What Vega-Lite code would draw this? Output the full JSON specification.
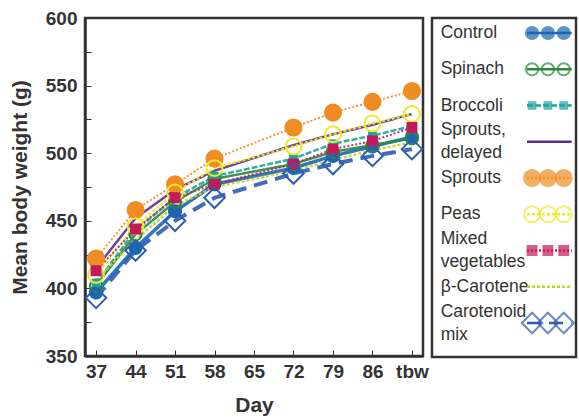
{
  "$schema": "https://vega.github.io/schema/vega-lite/v6.json",
  "padding": {"left": 8, "top": 7, "right": 0, "bottom": 2},
  "spacing": 0,
  "config": {
    "font": "Liberation Sans",
    "view": {"stroke": "#333", "strokeWidth": 2.5}
  },
  "datasets": {
    "weights": [
      {"Series": "Control", "Day": "37", "Weight": 397},
      {"Series": "Control", "Day": "44", "Weight": 430},
      {"Series": "Control", "Day": "51", "Weight": 457},
      {"Series": "Control", "Day": "58", "Weight": 477},
      {"Series": "Control", "Day": "72", "Weight": 489},
      {"Series": "Control", "Day": "79", "Weight": 498},
      {"Series": "Control", "Day": "86", "Weight": 505},
      {"Series": "Control", "Day": "tbw", "Weight": 512},
      {"Series": "Spinach", "Day": "37", "Weight": 402},
      {"Series": "Spinach", "Day": "44", "Weight": 440},
      {"Series": "Spinach", "Day": "51", "Weight": 464},
      {"Series": "Spinach", "Day": "58", "Weight": 481},
      {"Series": "Spinach", "Day": "72", "Weight": 492},
      {"Series": "Spinach", "Day": "79", "Weight": 501},
      {"Series": "Spinach", "Day": "86", "Weight": 506},
      {"Series": "Spinach", "Day": "tbw", "Weight": 511},
      {"Series": "Broccoli", "Day": "37", "Weight": 404},
      {"Series": "Broccoli", "Day": "44", "Weight": 443},
      {"Series": "Broccoli", "Day": "51", "Weight": 467},
      {"Series": "Broccoli", "Day": "58", "Weight": 483},
      {"Series": "Broccoli", "Day": "72", "Weight": 496},
      {"Series": "Broccoli", "Day": "79", "Weight": 507},
      {"Series": "Broccoli", "Day": "86", "Weight": 513},
      {"Series": "Broccoli", "Day": "tbw", "Weight": 520},
      {"Series": "Sprouts, delayed", "Day": "37", "Weight": 415},
      {"Series": "Sprouts, delayed", "Day": "44", "Weight": 452},
      {"Series": "Sprouts, delayed", "Day": "51", "Weight": 473},
      {"Series": "Sprouts, delayed", "Day": "58", "Weight": 487},
      {"Series": "Sprouts, delayed", "Day": "72", "Weight": 506},
      {"Series": "Sprouts, delayed", "Day": "79", "Weight": 514},
      {"Series": "Sprouts, delayed", "Day": "86", "Weight": 521},
      {"Series": "Sprouts, delayed", "Day": "tbw", "Weight": 529},
      {"Series": "Sprouts", "Day": "37", "Weight": 422},
      {"Series": "Sprouts", "Day": "44", "Weight": 458},
      {"Series": "Sprouts", "Day": "51", "Weight": 477},
      {"Series": "Sprouts", "Day": "58", "Weight": 496},
      {"Series": "Sprouts", "Day": "72", "Weight": 519},
      {"Series": "Sprouts", "Day": "79", "Weight": 530},
      {"Series": "Sprouts", "Day": "86", "Weight": 538},
      {"Series": "Sprouts", "Day": "tbw", "Weight": 546},
      {"Series": "Peas", "Day": "37", "Weight": 410},
      {"Series": "Peas", "Day": "44", "Weight": 446},
      {"Series": "Peas", "Day": "51", "Weight": 471},
      {"Series": "Peas", "Day": "58", "Weight": 489},
      {"Series": "Peas", "Day": "72", "Weight": 505},
      {"Series": "Peas", "Day": "79", "Weight": 514},
      {"Series": "Peas", "Day": "86", "Weight": 522},
      {"Series": "Peas", "Day": "tbw", "Weight": 529},
      {"Series": "Mixed vegetables", "Day": "37", "Weight": 413},
      {"Series": "Mixed vegetables", "Day": "44", "Weight": 444},
      {"Series": "Mixed vegetables", "Day": "51", "Weight": 467},
      {"Series": "Mixed vegetables", "Day": "58", "Weight": 477},
      {"Series": "Mixed vegetables", "Day": "72", "Weight": 492},
      {"Series": "Mixed vegetables", "Day": "79", "Weight": 503},
      {"Series": "Mixed vegetables", "Day": "86", "Weight": 509},
      {"Series": "Mixed vegetables", "Day": "tbw", "Weight": 519},
      {"Series": "β-Carotene", "Day": "37", "Weight": 406},
      {"Series": "β-Carotene", "Day": "44", "Weight": 436},
      {"Series": "β-Carotene", "Day": "51", "Weight": 461},
      {"Series": "β-Carotene", "Day": "58", "Weight": 475},
      {"Series": "β-Carotene", "Day": "72", "Weight": 487},
      {"Series": "β-Carotene", "Day": "79", "Weight": 495},
      {"Series": "β-Carotene", "Day": "86", "Weight": 502},
      {"Series": "β-Carotene", "Day": "tbw", "Weight": 508},
      {"Series": "Carotenoid mix", "Day": "37", "Weight": 393},
      {"Series": "Carotenoid mix", "Day": "44", "Weight": 428},
      {"Series": "Carotenoid mix", "Day": "51", "Weight": 450},
      {"Series": "Carotenoid mix", "Day": "58", "Weight": 467},
      {"Series": "Carotenoid mix", "Day": "72", "Weight": 485},
      {"Series": "Carotenoid mix", "Day": "79", "Weight": 492},
      {"Series": "Carotenoid mix", "Day": "86", "Weight": 498},
      {"Series": "Carotenoid mix", "Day": "tbw", "Weight": 503}
    ],
    "legend": [
      {"Series": "Control", "Label": "Control"},
      {"Series": "Spinach", "Label": "Spinach"},
      {"Series": "Broccoli", "Label": "Broccoli"},
      {"Series": "Sprouts, delayed", "Label": "Sprouts,\ndelayed"},
      {"Series": "Sprouts", "Label": "Sprouts"},
      {"Series": "Peas", "Label": "Peas"},
      {"Series": "Mixed vegetables", "Label": "Mixed\nvegetables"},
      {"Series": "β-Carotene", "Label": "β-Carotene"},
      {"Series": "Carotenoid mix", "Label": "Carotenoid\nmix"}
    ]
  },
  "hconcat": [
    {
      "width": 338,
      "height": 338,
      "data": {"name": "weights"},
      "encoding": {
        "x": {
          "field": "Day", "type": "ordinal",
          "scale": {"type": "point", "domain": ["37","44","51","58","65","72","79","86","tbw"], "padding": 0.28},
          "axis": {
            "title": "Day", "titleFontSize": 21, "titleFontWeight": "bold", "titleColor": "#333", "titlePadding": 13,
            "labelAngle": 0, "labelFontSize": 19, "labelFontWeight": "bold", "labelColor": "#333", "labelPadding": 12,
            "tickSize": -6, "tickColor": "#333", "domainColor": "#333", "domainWidth": 2.5, "grid": false
          }
        },
        "y": {
          "field": "Weight", "type": "quantitative",
          "scale": {"domain": [350, 600], "nice": false, "zero": false},
          "axis": {
            "title": "Mean body weight (g)", "titleFontSize": 21, "titleFontWeight": "bold", "titleColor": "#333", "titlePadding": 15,
            "values": [350, 375, 400, 425, 450, 475, 500, 525, 550, 575, 600],
            "labelExpr": "datum.value % 50 == 0 ? datum.label : ''",
            "labelFontSize": 19, "labelFontWeight": "bold", "labelColor": "#333", "labelPadding": 14,
            "tickSize": -6, "tickColor": "#333", "domainColor": "#333", "domainWidth": 2.5, "grid": false
          }
        }
      },
      "layer": [
        {
          "mark": {"type": "line", "opacity": 0.9},
          "encoding": {
            "color": {
              "field": "Series", "type": "nominal", "legend": null,
              "scale": {
                "domain": ["Control","Spinach","Broccoli","Sprouts, delayed","Sprouts","Peas","Mixed vegetables","β-Carotene","Carotenoid mix"],
                "range": ["#1a68b3","#2a8a3c","#1aa59a","#5c2d8f","#f08c22","#f0e82a","#c41a5a","#c2d22a","#2f5cb0"]
              }
            },
            "strokeDash": {
              "field": "Series", "type": "nominal", "legend": null,
              "scale": {
                "domain": ["Control","Spinach","Broccoli","Sprouts, delayed","Sprouts","Peas","Mixed vegetables","β-Carotene","Carotenoid mix"],
                "range": [[1,0],[1,0],[6,2],[1,0],[2,2],[3,2],[2,2],[3,2],[14,8]]
              }
            },
            "strokeWidth": {
              "field": "Series", "type": "nominal", "legend": null,
              "scale": {
                "type": "ordinal",
                "domain": ["Control","Spinach","Broccoli","Sprouts, delayed","Sprouts","Peas","Mixed vegetables","β-Carotene","Carotenoid mix"],
                "range": [3.5, 2.5, 2.5, 2.5, 2, 2.5, 2, 2.5, 4]
              }
            }
          }
        },
        {
          "transform": [{"filter": "datum.Series != 'Sprouts, delayed' && datum.Series != 'β-Carotene'"}],
          "mark": {"type": "point", "opacity": 1},
          "encoding": {
            "shape": {
              "field": "Series", "type": "nominal", "legend": null,
              "scale": {
                "domain": ["Control","Spinach","Broccoli","Sprouts","Peas","Mixed vegetables","Carotenoid mix"],
                "range": ["circle","circle","square","circle","circle","square","diamond"]
              }
            },
            "size": {
              "field": "Series", "type": "nominal", "legend": null,
              "scale": {
                "type": "ordinal",
                "domain": ["Control","Spinach","Broccoli","Sprouts","Peas","Mixed vegetables","Carotenoid mix"],
                "range": [150, 150, 45, 260, 250, 80, 420]
              }
            },
            "stroke": {
              "field": "Series", "type": "nominal", "legend": null,
              "scale": {
                "domain": ["Control","Spinach","Broccoli","Sprouts","Peas","Mixed vegetables","Carotenoid mix"],
                "range": ["#1a68b3","#2a8a3c","#1aa59a","#f08c22","#f0e82a","#c41a5a","#2f5cb0"]
              }
            },
            "fill": {
              "field": "Series", "type": "nominal", "legend": null,
              "scale": {
                "domain": ["Control","Spinach","Broccoli","Sprouts","Peas","Mixed vegetables","Carotenoid mix"],
                "range": ["#1a68b3","transparent","#1aa59a","#f08c22","transparent","#c41a5a","transparent"]
              }
            },
            "strokeWidth": {"value": 2}
          }
        }
      ]
    },
    {
      "width": 144,
      "height": 339,
      "data": {"name": "legend"},
      "encoding": {
        "y": {
          "field": "Series", "type": "nominal", "axis": null,
          "scale": {"type": "point", "domain": ["Control","Spinach","Broccoli","Sprouts, delayed","Sprouts","Peas","Mixed vegetables","β-Carotene","Carotenoid mix"], "range": [15, 305], "padding": 0}
        }
      },
      "layer": [
        {
          "transform": [{"filter": "indexof(datum.Label, '\\n') < 0"}],
          "mark": {"type": "text", "align": "left", "baseline": "middle", "fontSize": 17.5, "color": "#333"},
          "encoding": {
            "x": {"datum": 0.06, "type": "quantitative", "scale": {"domain": [0, 1]}, "axis": null},
            "text": {"field": "Label"}
          }
        },
        {
          "transform": [{"filter": "indexof(datum.Label, '\\n') >= 0"}],
          "mark": {"type": "text", "align": "left", "baseline": "middle", "fontSize": 17.5, "lineBreak": "\n", "lineHeight": 23, "dy": -11.5, "color": "#333"},
          "encoding": {
            "x": {"datum": 0.06, "type": "quantitative"},
            "text": {"field": "Label"}
          }
        },
        {
          "mark": {"type": "rule"},
          "encoding": {
            "x": {"datum": 0.66, "type": "quantitative"},
            "x2": {"datum": 0.97},
            "color": {
              "field": "Series", "type": "nominal", "legend": null,
              "scale": {
                "domain": ["Control","Spinach","Broccoli","Sprouts, delayed","Sprouts","Peas","Mixed vegetables","β-Carotene","Carotenoid mix"],
                "range": ["#1a68b3","#2a8a3c","#1aa59a","#5c2d8f","#f08c22","#f0e82a","#c41a5a","#c2d22a","#2f5cb0"]
              }
            },
            "strokeDash": {
              "field": "Series", "type": "nominal", "legend": null,
              "scale": {
                "domain": ["Control","Spinach","Broccoli","Sprouts, delayed","Sprouts","Peas","Mixed vegetables","β-Carotene","Carotenoid mix"],
                "range": [[1,0],[1,0],[6,2],[1,0],[2,2],[3,2],[2,2],[3,2],[14,8]]
              }
            },
            "strokeWidth": {"value": 2.5}
          }
        },
        {
          "transform": [{"filter": "datum.Series != 'Sprouts, delayed' && datum.Series != 'β-Carotene'"}],
          "layer": [
            {"mark": {"type": "point", "strokeWidth": 2}, "encoding": {"x": {"datum": 0.695, "type": "quantitative"}}},
            {"mark": {"type": "point", "strokeWidth": 2}, "encoding": {"x": {"datum": 0.805, "type": "quantitative"}}},
            {"mark": {"type": "point", "strokeWidth": 2}, "encoding": {"x": {"datum": 0.915, "type": "quantitative"}}}
          ],
          "encoding": {
            "shape": {
              "field": "Series", "type": "nominal", "legend": null,
              "scale": {
                "domain": ["Control","Spinach","Broccoli","Sprouts","Peas","Mixed vegetables","Carotenoid mix"],
                "range": ["circle","circle","square","circle","circle","square","diamond"]
              }
            },
            "size": {
              "field": "Series", "type": "nominal", "legend": null,
              "scale": {
                "type": "ordinal",
                "domain": ["Control","Spinach","Broccoli","Sprouts","Peas","Mixed vegetables","Carotenoid mix"],
                "range": [200, 170, 45, 210, 190, 70, 400]
              }
            },
            "stroke": {
              "field": "Series", "type": "nominal", "legend": null,
              "scale": {
                "domain": ["Control","Spinach","Broccoli","Sprouts","Peas","Mixed vegetables","Carotenoid mix"],
                "range": ["#1a68b3","#2a8a3c","#1aa59a","#f08c22","#f0e82a","#c41a5a","#2f5cb0"]
              }
            },
            "fill": {
              "field": "Series", "type": "nominal", "legend": null,
              "scale": {
                "domain": ["Control","Spinach","Broccoli","Sprouts","Peas","Mixed vegetables","Carotenoid mix"],
                "range": ["#1a68b3","transparent","#1aa59a","#f08c22","transparent","#c41a5a","transparent"]
              }
            }
          }
        }
      ]
    }
  ]
}
